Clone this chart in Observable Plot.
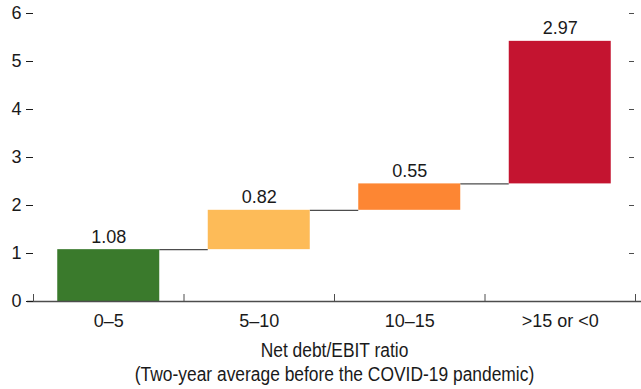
<!DOCTYPE html>
<html>
<head>
<meta charset="utf-8">
<script src="https://cdn.jsdelivr.net/npm/d3@7"></script>
<script src="https://cdn.jsdelivr.net/npm/@observablehq/plot@0.6"></script>
<style>
  html, body { margin: 0; padding: 0; background: #fff; }
  #chart svg { display: block; }
  .cap {
    width: 641px; box-sizing: border-box; padding-left: 28px;
    text-align: center; font-family: "Liberation Sans", Arial, sans-serif;
    font-size: 20px; line-height: 24px; color: #1a1a1a;
    transform: scaleX(0.87); transform-origin: 334.5px 0;
    white-space: nowrap;
  }
</style>
</head>
<body>
<div id="chart"></div>
<div class="cap">Net debt/EBIT ratio<br>(Two-year average before the COVID-19 pandemic)</div>
<script>
// Data
const categories = ["0\u20135", "5\u201310", "10\u201315", ">15 or <0"];
const increments = [1.08, 0.82, 0.55, 2.97];
const labels = ["1.08", "0.82", "0.55", "2.97"];
const colors = ["#3a7a2c", "#fdbb58", "#fd8633", "#c41430"];
const yTicks = [0, 1, 2, 3, 4, 5, 6];

const ends = d3.cumsum(increments);
const rows = categories.map((c, i) => ({
  i, cat: c, start: i === 0 ? 0 : ends[i - 1], end: ends[i], label: labels[i], color: colors[i]
}));
const connectors = rows.slice(0, -1).map(r => ({x: r.i + 1, y: r.end}));

const ink = "#1a1a1a";
const lineCol = "#4d4d4d";
const barInset = 24.25;

const chart = Plot.plot({
  width: 641,
  height: 338,
  marginLeft: 33,
  marginRight: 6,
  marginTop: 13,
  marginBottom: 37,
  style: {fontFamily: "'Liberation Sans', Arial, sans-serif", fontSize: "18px", color: ink, background: "#fff"},
  x: {type: "linear", domain: [0, categories.length], axis: null},
  y: {domain: [0, 6], axis: null},
  marks: [
    // connectors between bar edges
    Plot.ruleY(connectors, {x1: "x", x2: "x", y: "y", stroke: lineCol, strokeWidth: 1.2,
      insetLeft: -barInset, insetRight: -barInset}),
    Plot.rectY(rows, {
      x1: "i", x2: d => d.i + 1, y1: "start", y2: "end",
      fill: d => d.color, insetLeft: barInset, insetRight: barInset
    }),
    Plot.text(rows, {
      x: d => d.i + 0.5, y: "end", text: "label", lineAnchor: "bottom", dy: -7,
      fill: ink, fontSize: 18
    }),
    // baseline
    Plot.ruleY([0], {stroke: lineCol, strokeWidth: 1.5, insetLeft: -6, insetRight: -6}),
    // left axis
    Plot.axisY({anchor: "left", ticks: yTicks, tickSize: 7, tickPadding: 5, label: null,
      stroke: ink, fill: ink, fontSize: 18, tickFormat: d3.format("d")}),
    // right axis (ticks only, inside)
    Plot.axisY({anchor: "right", ticks: yTicks, tickSize: 5, dx: -7, label: null,
      stroke: lineCol, tickFormat: () => ""}),
    // x boundary ticks (pointing up)
    Plot.axisX({anchor: "bottom", ticks: d3.range(categories.length + 1), tickSize: 7, dy: -7,
      stroke: lineCol, tickFormat: () => "", label: null}),
    // x category labels
    Plot.axisX({anchor: "bottom", ticks: d3.range(categories.length).map(i => i + 0.5),
      tickSize: 0, tickPadding: 13, label: null, fill: ink, fontSize: 18,
      tickFormat: d => categories[Math.round(d - 0.5)]})
  ]
});
document.getElementById("chart").appendChild(chart);
</script>
</body>
</html>
